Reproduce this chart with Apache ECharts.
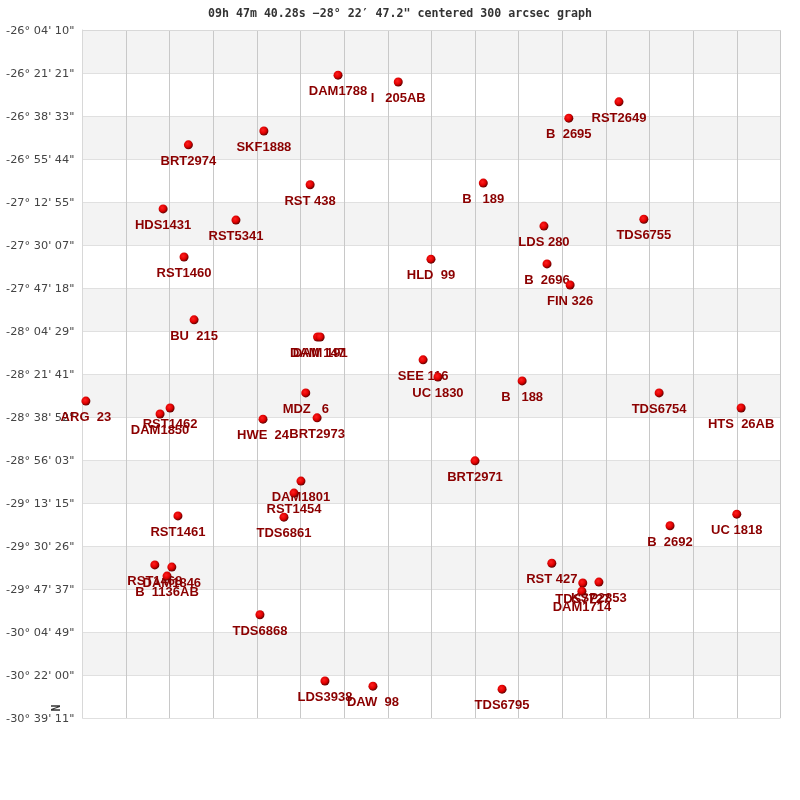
<!DOCTYPE html>
<html>
<head>
<meta charset="utf-8">
<style>html,body{margin:0;padding:0;background:#fff}#c{width:800px;height:800px}</style>
<script src="https://cdn.jsdelivr.net/npm/echarts@6/dist/echarts.min.js"></script>
</head>
<body>
<div id="c"></div>
<script>
const titleText = '09h 47m 40.28s \u221228\u00b0 22\u2032 47.2" centered 300 arcsec graph';
const northLabel = 'N';
const decTickLabels = ['-26\u00b0 04\' 10"','-26\u00b0 21\' 21"','-26\u00b0 38\' 33"','-26\u00b0 55\' 44"','-27\u00b0 12\' 55"','-27\u00b0 30\' 07"','-27\u00b0 47\' 18"','-28\u00b0 04\' 29"','-28\u00b0 21\' 41"','-28\u00b0 38\' 52"','-28\u00b0 56\' 03"','-29\u00b0 13\' 15"','-29\u00b0 30\' 26"','-29\u00b0 47\' 37"','-30\u00b0 04\' 49"','-30\u00b0 22\' 00"','-30\u00b0 39\' 11"'];
const starNames = ['DAM1788','I   205AB','B  2695','RST2649','SKF1888','BRT2974','RST 438','B   189','HDS1431','RST5341','LDS 280','TDS6755','RST1460','HLD  99','B  2696','FIN 326','BU  215','DAM 147','DAM 191','SEE 116','UC 1830','B   188','TDS6754','HTS  26AB','ARG  23','RST1462','DAM1850','MDZ   6','HWE  24','BRT2973','BRT2971','DAM1801','RST1454','TDS6861','RST1461','B  2692','UC 1818','RST 427','RST1468','DAM1846','B  1136AB','TDS7727','KSP2853','DAM1714','TDS6868','LDS3938','DAW  98','TDS6795'];
const raCells = [5.86,7.24,11.15,12.30,4.16,2.43,5.22,9.19,1.85,3.52,10.58,12.87,2.33,7.99,10.65,11.18,2.56,5.39,5.45,7.81,8.15,10.08,13.22,15.10,0.08,2.01,1.78,5.12,4.14,5.38,9.00,5.01,4.85,4.62,2.19,13.47,15.00,10.76,1.66,2.05,1.94,11.47,11.84,11.45,4.07,5.56,6.66,9.62];
const decCells = [1.05,1.21,2.05,1.67,2.35,2.67,3.60,3.56,4.16,4.42,4.56,4.40,5.28,5.33,5.44,5.93,6.74,7.14,7.14,7.67,8.07,8.16,8.44,8.79,8.63,8.79,8.93,8.44,9.05,9.02,10.02,10.49,10.77,11.33,11.30,11.53,11.26,12.40,12.44,12.49,12.70,12.86,12.84,13.05,13.60,15.14,15.26,15.33];

const points = starNames.map((n,i)=>({name:n,value:[raCells[i],decCells[i]]}));
const chart = echarts.init(document.getElementById('c'),null,{renderer:'canvas'});
chart.setOption({
  animation:false,
  backgroundColor:'#fff',
  title:{text:titleText,left:'center',top:3,textStyle:{fontFamily:'DejaVu Sans Mono',fontWeight:'bold',fontSize:11.6,color:'#333'}},
  graphic:[{type:'text',x:57,y:708,rotation:Math.PI/2,silent:true,
    style:{text:northLabel,fill:'#333',fontFamily:'DejaVu Sans Mono',fontWeight:'bold',fontSize:11.6,align:'center',verticalAlign:'middle'}}],
  grid:{left:82.4,right:19.6,top:30,bottom:82},
  xAxis:{type:'value',min:0,max:16,interval:1,position:'top',
    axisLine:{show:true,lineStyle:{color:'#d8d8d8',width:1}},axisTick:{show:false},axisLabel:{show:false},
    splitLine:{show:true,lineStyle:{color:'#c8c8c8',width:1}}},
  yAxis:{type:'value',min:0,max:16,interval:1,inverse:true,
    axisLine:{show:true,lineStyle:{color:'#d8d8d8',width:1}},axisTick:{show:false},
    axisLabel:{margin:8,formatter:v=>'{t|'+(decTickLabels[v]||'')+'}',
      rich:{t:{fontFamily:'DejaVu Sans',fontSize:11.3,color:'#444',lineHeight:13,padding:[2,0,0,0]}}},
    splitLine:{show:true,lineStyle:{color:'#e0e0e0',width:1}},
    splitArea:{show:true,areaStyle:{color:['#f3f3f3','#ffffff']}}},
  series:[
    {type:'scatter',z:3,silent:true,symbolSize:0,data:points,clip:false,itemStyle:{opacity:1},
      label:{show:true,position:'bottom',distance:10,formatter:p=>p.name,opacity:1,
        fontFamily:'Liberation Sans',fontWeight:'bold',fontSize:13,color:'#8b0000'},
      labelLayout:{hideOverlap:false}},
    {type:'scatter',z:4,silent:true,symbol:'circle',symbolSize:9,data:points,clip:false,
      itemStyle:{opacity:1,color:new echarts.graphic.RadialGradient(0.4,0.38,0.62,[
        {offset:0,color:'#ff2020'},{offset:0.6,color:'#e00000'},{offset:1,color:'#600000'}])}}
  ]
});
</script>
</body>
</html>
